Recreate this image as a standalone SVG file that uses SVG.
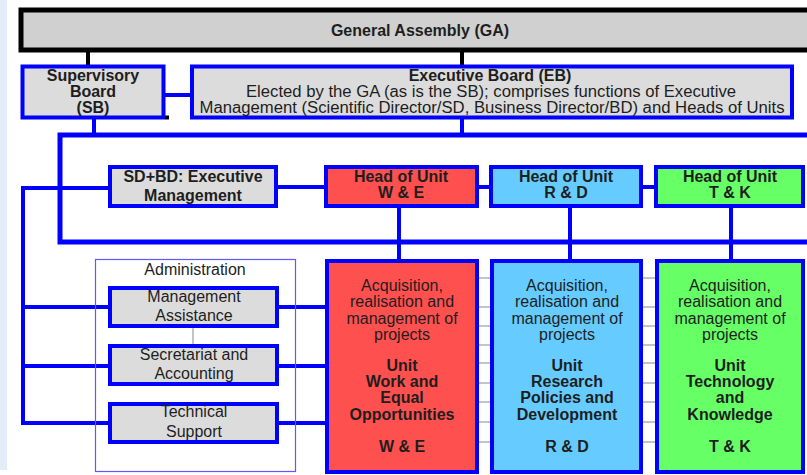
<svg xmlns="http://www.w3.org/2000/svg" width="807" height="475" viewBox="0 0 807 475">
<style>
text{font-family:"Liberation Sans",Arial,sans-serif;font-size:16px;fill:#1e1e1e;text-anchor:middle}
.b{font-weight:bold}
.ga{fill:#d0d0d0;stroke:#000;stroke-width:5}
.gray{fill:#dcdcdc;stroke:#0000ff;stroke-width:4}
.red{fill:#ff5050;stroke:#0000ff;stroke-width:4}
.lblue{fill:#66ccff;stroke:#0000ff;stroke-width:4}
.green{fill:#66ff66;stroke:#0000ff;stroke-width:4}
.blk{stroke:#000;stroke-width:4;fill:none}
.bl{stroke:#0000ff;stroke-width:4;fill:none}
.blt{stroke:#0000ff;stroke-width:5;fill:none}
.thin{stroke:#888;stroke-width:1;fill:none}
</style>
<rect x="0" y="0" width="7" height="470" fill="#e3edf9"/>
<g id="connectors">
<path class="blk" d="M88,52V65M462,52V65"/>
<path class="bl" d="M164,95H192" stroke-width="3"/>
<path class="blk" d="M165,117.5H169" stroke-width="1.5"/>
<path class="bl" d="M94,118V135M462,119V135"/>
<path class="blt" d="M812,135H60V242H812"/>
<path class="bl" d="M110,188H23V423H110M23,307H110M23,366H110"/>
<path class="bl" d="M277,187H326M477,187H491M641,187H656"/>
<path class="bl" d="M399,207V261M570,207V261M731,207V261"/>
<path class="bl" d="M277,307H327M277,366H327M277,423H327"/>
<path class="thin" d="M193,327V345"/>
<path class="thin" d="M479,278H491M479,307H491M479,326H491M479,345H491M479,363H491M479,383H491M479,402H491M479,422H491M479,442H491M643,278H656M643,307H656M643,326H656M643,345H656M643,363H656M643,383H656M643,402H656M643,422H656M643,442H656"/>
</g>
<g id="ga">
<rect class="ga" x="21" y="10" width="800" height="40"/>
<text class="b" x="420" y="36">General Assembly (GA)</text>
</g>
<g id="sb">
<rect class="gray" x="22.5" y="66.5" width="141" height="51" stroke-width="3.5"/>
<text class="b" x="93" y="81">Supervisory</text>
<text class="b" x="93" y="97">Board</text>
<text class="b" x="93" y="113">(SB)</text>
</g>
<g id="eb">
<rect class="gray" x="192" y="66.5" width="600" height="51" stroke-width="3.5"/>
<text class="b" x="490" y="81">Executive Board (EB)</text>
<text x="491" y="97" textLength="490" lengthAdjust="spacingAndGlyphs">Elected by the GA (as is the SB); comprises functions of Executive</text>
<text x="492" y="113" textLength="585" lengthAdjust="spacingAndGlyphs">Management (Scientific Director/SD, Business Director/BD) and Heads of Units</text>
</g>
<g id="sdbd">
<rect class="gray" x="110" y="167" width="166" height="39"/>
<text class="b" x="193" y="182">SD+BD: Executive</text>
<text class="b" x="193" y="201">Management</text>
</g>
<g id="head-we">
<rect class="red" x="326" y="167" width="151" height="39"/>
<text class="b" x="401" y="182">Head of Unit</text>
<text class="b" x="401" y="198">W &amp; E</text>
</g>
<g id="head-rd">
<rect class="lblue" x="491" y="167" width="150" height="39"/>
<text class="b" x="566" y="182">Head of Unit</text>
<text class="b" x="566" y="198">R &amp; D</text>
</g>
<g id="head-tk">
<rect class="green" x="656" y="167" width="147" height="39"/>
<text class="b" x="730" y="182">Head of Unit</text>
<text class="b" x="730" y="198">T &amp; K</text>
</g>
<g id="administration">
<rect x="95.5" y="259.5" width="200" height="212" fill="none" stroke="#5a5aff" stroke-width="1.2"/>
<text x="195" y="275">Administration</text>
</g>
<g id="mgmt-assistance">
<rect class="gray" x="110" y="288" width="167" height="38"/>
<text x="194" y="302">Management</text>
<text x="194" y="321">Assistance</text>
</g>
<g id="secretariat">
<rect class="gray" x="110" y="346" width="167" height="38"/>
<text x="194" y="360">Secretariat and</text>
<text x="194" y="379">Accounting</text>
</g>
<g id="technical-support">
<rect class="gray" x="110" y="404" width="167" height="38"/>
<text x="194" y="417">Technical</text>
<text x="194" y="437">Support</text>
</g>
<g id="unit-we">
<rect class="red" x="327" y="261" width="150" height="211"/>
<text x="402" y="291">Acquisition,</text>
<text x="402" y="307">realisation and</text>
<text x="402" y="324">management of</text>
<text x="402" y="340">projects</text>
<text class="b" x="402" y="371">Unit</text>
<text class="b" x="402" y="387">Work and</text>
<text class="b" x="402" y="403">Equal</text>
<text class="b" x="402" y="420">Opportunities</text>
<text class="b" x="402" y="452">W &amp; E</text>
</g>
<g id="unit-rd">
<rect class="lblue" x="492" y="261" width="149" height="211"/>
<text x="567" y="291">Acquisition,</text>
<text x="567" y="307">realisation and</text>
<text x="567" y="324">management of</text>
<text x="567" y="340">projects</text>
<text class="b" x="567" y="371">Unit</text>
<text class="b" x="567" y="387">Research</text>
<text class="b" x="567" y="403">Policies and</text>
<text class="b" x="567" y="420">Development</text>
<text class="b" x="567" y="452">R &amp; D</text>
</g>
<g id="unit-tk">
<rect class="green" x="657" y="261" width="146" height="211"/>
<text x="730" y="291">Acquisition,</text>
<text x="730" y="307">realisation and</text>
<text x="730" y="324">management of</text>
<text x="730" y="340">projects</text>
<text class="b" x="730" y="371">Unit</text>
<text class="b" x="730" y="387">Technology</text>
<text class="b" x="730" y="403">and</text>
<text class="b" x="730" y="420">Knowledge</text>
<text class="b" x="730" y="452">T &amp; K</text>
</g>
</svg>
